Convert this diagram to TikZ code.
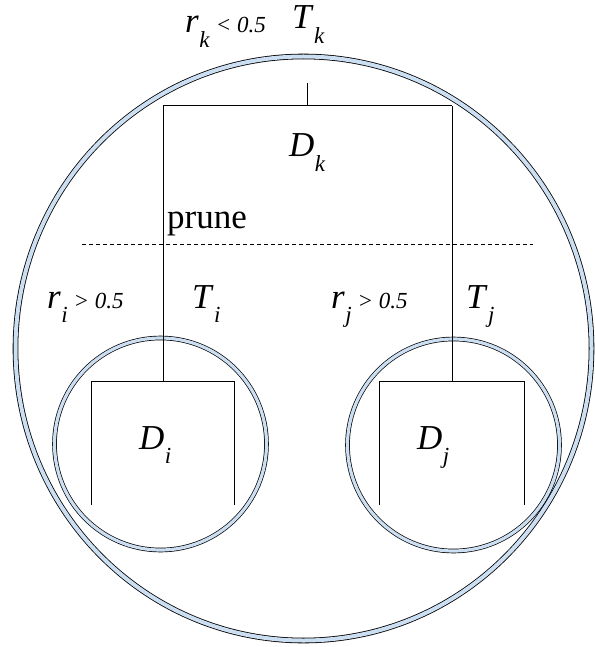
\documentclass[tikz,border=0pt]{standalone}
\usepackage{fontspec}
\setmainfont{Liberation Serif}
\definecolor{ringblue}{RGB}{204,223,242}
\newcommand{\sublbl}[2]{\textit{#1}\kern0.5pt\raisebox{-0.42em}{\fontsize{23}{23}\selectfont\textit{#2}}}
\newcommand{\cond}[1]{{\fontsize{23}{23}\selectfont\textit{#1}}}
\begin{document}
\begin{tikzpicture}[x=1pt,y=-1pt,font=\fontsize{35}{40}\selectfont,
    bigring/.style={draw=black, line width=0.8pt, double=ringblue, double distance=4pt},
    smallring/.style={draw=black, line width=0.7pt, double=ringblue, double distance=3.2pt},
    branch/.style={draw=black, line width=1pt}]
\useasboundingbox (0,0) rectangle (594,647);
\coordinate (rootk) at (307,83);
\coordinate (splitk) at (307,106);
\coordinate (leftk) at (163,106);
\coordinate (rightk) at (452,106);
\coordinate (rooti) at (163,381);
\coordinate (rootj) at (452,381);
\coordinate (tli) at (91,381);
\coordinate (tri) at (234,381);
\coordinate (bli) at (91,505);
\coordinate (bri) at (234,505);
\coordinate (tlj) at (379,381);
\coordinate (trj) at (524,381);
\coordinate (blj) at (379,505);
\coordinate (brj) at (524,505);
\coordinate (cutL) at (82,244);
\coordinate (cutR) at (533,244);

\draw[bigring] (303.5,348.5) ellipse [x radius=288, y radius=292];
\draw[smallring] (160.5,444) circle [radius=106];
\draw[smallring] (453.5,445) circle [radius=106];

\draw[branch] (rootk) -- (splitk);
\draw[branch] (leftk) -- (rightk);
\draw[branch] (leftk) -- (rooti);
\draw[branch] (rightk) -- (rootj);
\draw[branch] (bli) -- (tli) -- (tri) -- (bri);
\draw[branch] (blj) -- (tlj) -- (trj) -- (brj);
\draw[dash pattern=on 4pt off 3pt, line width=0.8pt] (cutL) -- (cutR);

\node[anchor=base west, inner sep=0pt] (rk) at (185,33) {\sublbl{r}{k}\,\cond{< 0.5}};
\node[anchor=base west, inner sep=0pt] (Tk) at (292,29) {\sublbl{T}{k}};
\node[anchor=base west, inner sep=0pt] (Dk) at (289,157) {\sublbl{D}{k}};
\node[anchor=base west, inner sep=0pt] (prune) at (167,228) {prune};
\node[anchor=base west, inner sep=0pt] (ri) at (47,308) {\sublbl{r}{i}\,\cond{> 0.5}};
\node[anchor=base west, inner sep=0pt] (Ti) at (192,308) {\sublbl{T}{i}};
\node[anchor=base west, inner sep=0pt] (rj) at (331,308) {\sublbl{r}{j}\,\cond{> 0.5}};
\node[anchor=base west, inner sep=0pt] (Tj) at (466,308) {\sublbl{T}{j}};
\node[anchor=base west, inner sep=0pt] (Di) at (139,449) {\sublbl{D}{i}};
\node[anchor=base west, inner sep=0pt] (Dj) at (417,449) {\sublbl{D}{j}};
\end{tikzpicture}
\end{document}
